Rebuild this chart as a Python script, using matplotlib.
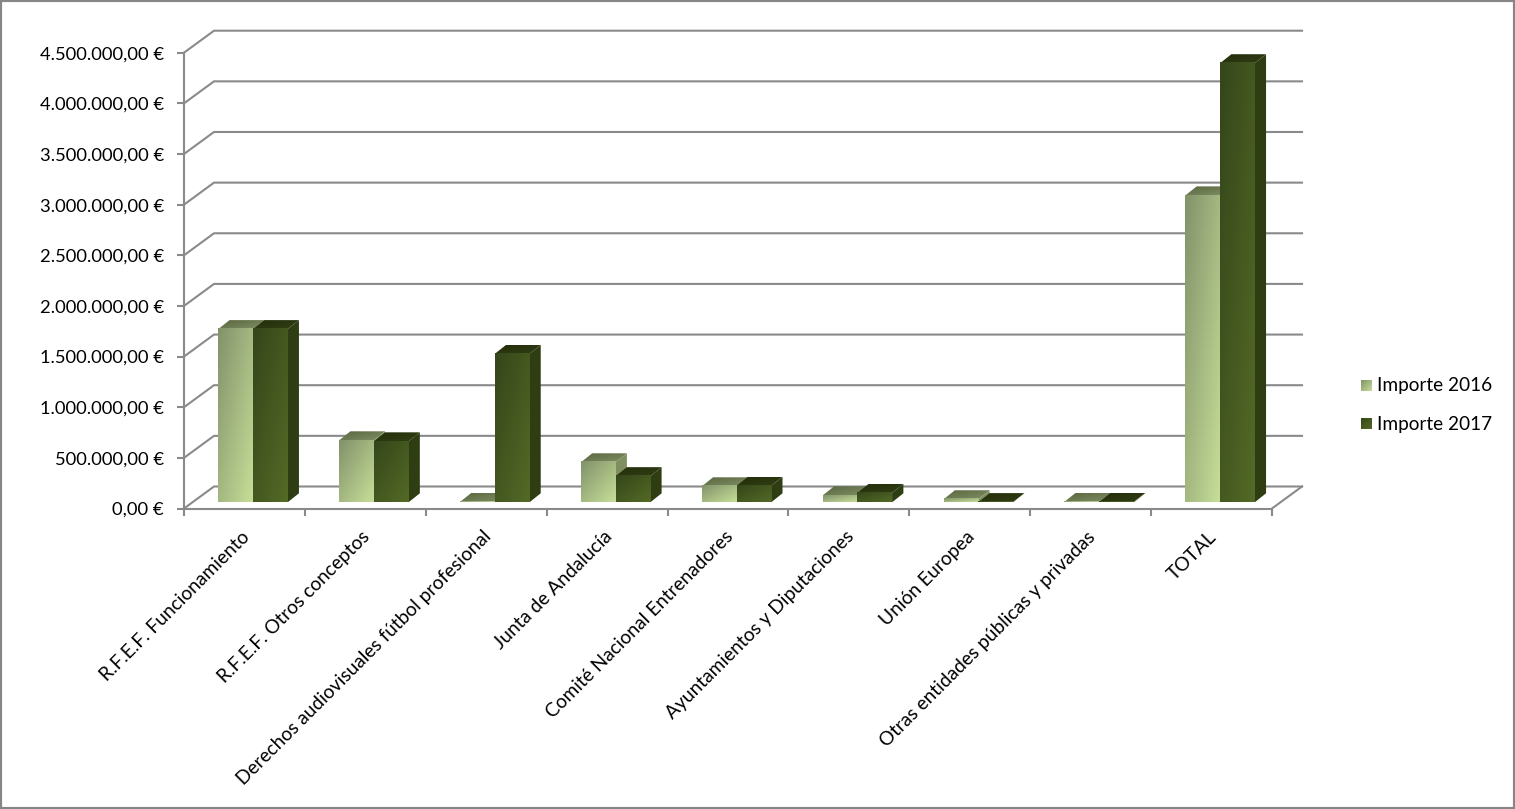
import numpy as np
import matplotlib.pyplot as plt
from matplotlib.colors import to_rgb
from matplotlib.patches import Polygon, Rectangle
from matplotlib.transforms import ScaledTranslation

categories = ['R.F.E.F. Funcionamiento', 'R.F.E.F. Otros conceptos',
              'Derechos audiovisuales fútbol profesional', 'Junta de Andalucía',
              'Comité Nacional Entrenadores', 'Ayuntamientos y Diputaciones',
              'Unión Europea', 'Otras entidades públicas y privadas', 'TOTAL']
importe_2016 = [1710000, 612000, 4000, 395000, 158000, 68000, 30000, 5000, 3030000]
importe_2017 = [1710000, 602000, 1465000, 258000, 163000, 93000, 2000, 5000, 4335000]
y_ticks = [0, 500000, 1000000, 1500000, 2000000, 2500000, 3000000, 3500000, 4000000, 4500000]
y_labels = ['0,00 €', '500.000,00 €', '1.000.000,00 €', '1.500.000,00 €', '2.000.000,00 €',
            '2.500.000,00 €', '3.000.000,00 €', '3.500.000,00 €', '4.000.000,00 €', '4.500.000,00 €']
legend_labels = ['Importe 2016', 'Importe 2017']

W, H = 1515, 809
plt.rcParams['font.family'] = ['Lato', 'DejaVu Sans']
LINE = '#8a8a8a'

fig = plt.figure(figsize=(W / 100, H / 100), dpi=100)
ax = fig.add_axes([184 / W, 1 - 508.5 / H, (1272 - 184) / W, (508.5 - 52.7) / H])
ax.set_xlim(0, 9)
ax.set_ylim(0, 4500000)
ax.patch.set_alpha(0)

# pixel sizes of the fake 3d, turned into data units
px_x = 9 / (1272 - 184)
px_y = 4500000 / (508.5 - 52.7)
wall_dx, wall_dy = 30 * px_x, 22 * px_y
base_dx, base_dy = 8.5 * px_x, 6.2 * px_y
bar_dx, bar_dy = 11.3 * px_x, 9 * px_y
bar_w = 34.7 * px_x


def gradient(c1, c2, n=64):
    u, v = np.meshgrid(np.linspace(0, 1, n), np.linspace(0, 1, n))
    t = ((u + v) / 2)[..., None]
    return (1 - t) * np.array(to_rgb(c1)) + t * np.array(to_rgb(c2))


def draw_bar(x0, value, front, side, top):
    y0 = base_dy
    y1 = y0 + value
    x1 = x0 + bar_w
    poly = Polygon([(x0, y1), (x1, y1), (x1 + bar_dx, y1 + bar_dy), (x0 + bar_dx, y1 + bar_dy)],
                   closed=True, fc='none', ec='none', transform=ax.transData)
    ax.add_patch(poly)
    im = ax.imshow(gradient(*top), extent=(x0, x1 + bar_dx, y1, y1 + bar_dy), aspect='auto',
                   zorder=3, interpolation='bilinear')
    im.set_clip_path(poly)
    ax.add_patch(Polygon([(x1, y0), (x1 + bar_dx, y0 + bar_dy), (x1 + bar_dx, y1 + bar_dy), (x1, y1)],
                         closed=True, fc=side, ec='none', zorder=3))
    ax.imshow(gradient(*front), extent=(x0, x1, y0, y1), aspect='auto', zorder=3,
              interpolation='bilinear')


# grid on the back wall
for v in y_ticks:
    ax.plot([0, wall_dx, 9 + wall_dx], [v, v + wall_dy, v + wall_dy], color=LINE, lw=1.5,
            clip_on=False, zorder=1, solid_joinstyle='miter')
ax.plot([9, 9 + wall_dx], [0, wall_dy], color=LINE, lw=1.5, clip_on=False, zorder=1)

front_2016 = ('#82926a', '#c6de98')
front_2017 = ('#34461a', '#546a26')
for i in range(len(categories)):
    start = i + 0.5 + base_dx - bar_w
    draw_bar(start, importe_2016[i], front_2016, '#7f8f60', ('#59663f', '#808f64'))
    draw_bar(start + bar_w, importe_2017[i], front_2017, '#2f3d12', ('#242e0b', '#313e14'))

ax.set_xlim(0, 9)
ax.set_ylim(0, 4500000)

for s in ['top', 'right']:
    ax.spines[s].set_visible(False)
for s in ['left', 'bottom']:
    ax.spines[s].set_color(LINE)
    ax.spines[s].set_linewidth(1.5)

ax.set_yticks(y_ticks)
ax.set_yticklabels(y_labels, fontsize=13.2, color='black')
ax.tick_params(axis='y', length=5, width=1.5, color=LINE, pad=9.5)
ax.set_xticks(range(10))
ax.set_xticklabels([])
ax.tick_params(axis='x', which='major', length=5, width=1.5, color=LINE)
ax.set_xticks(np.arange(len(categories)) + 0.5, minor=True)
ax.set_xticklabels(categories, minor=True, rotation=45, ha='right', va='top',
                   rotation_mode='anchor', fontsize=13.8)
ax.tick_params(axis='x', which='minor', length=0, pad=14)
shift = ScaledTranslation(-4 / 100, 0, fig.dpi_scale_trans)
for lab in ax.get_xticklabels(minor=True):
    lab.set_transform(lab.get_transform() + shift)

# legend, swatches have the same gradient as the bars
for label, y_top, colors in zip(legend_labels, [380, 418], [front_2016, front_2017]):
    sw = fig.add_axes([1361 / W, 1 - (y_top + 11) / H, 11 / W, 11 / H])
    sw.imshow(gradient(*colors), aspect='auto', interpolation='bilinear')
    sw.axis('off')
    fig.text(1377 / W, 1 - (y_top + 6) / H, label, fontsize=13.7, va='center', ha='left')

# chart border
fig.add_artist(Rectangle((0, 0), 1, 1, transform=fig.transFigure, fc='none', ec='#868686', lw=3))

fig.savefig('out.png', dpi=100)
